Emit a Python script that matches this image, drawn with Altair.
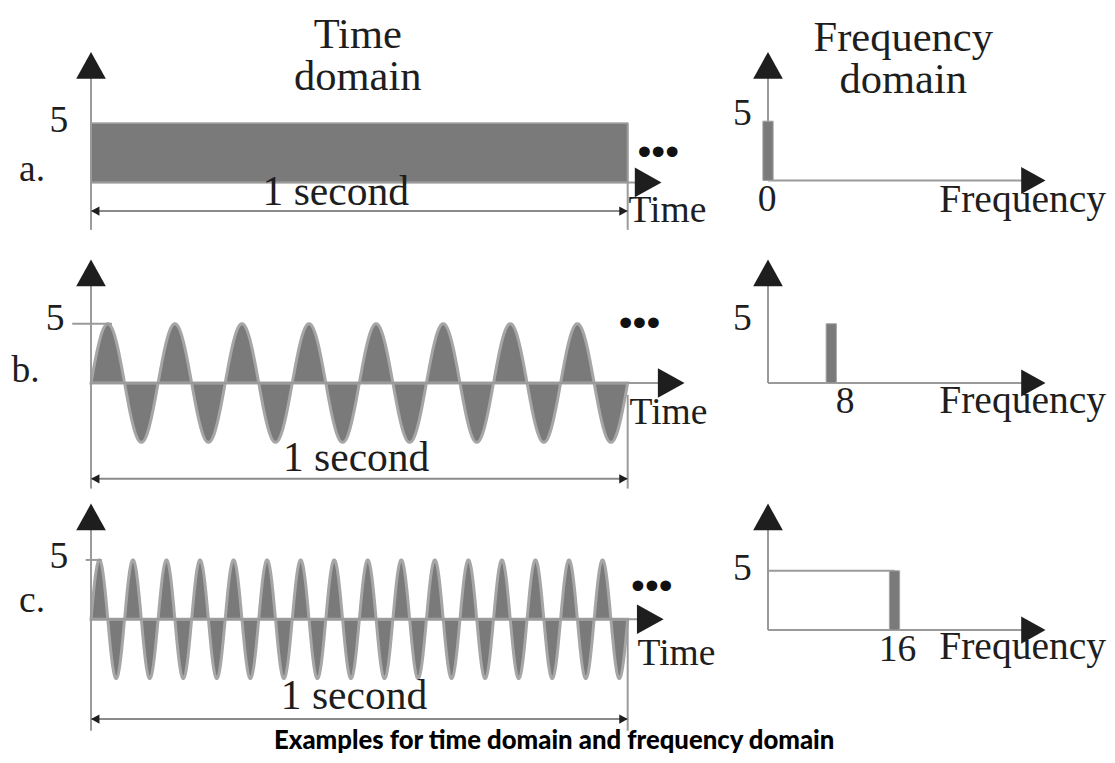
import altair as alt
import pandas as pd

# ---------------- data ----------------
ROW_LABELS = ["a.", "b.", "c."]
FREQS = [0, 8, 16]                 # Hz, one spectral line per row
AMPS = [5, 5, 5]                   # amplitude of each signal
FREQ_TICK_LABELS = ["0", "8", "16"]
AMP_TICK_LABEL = "5"
DURATION = 1.0                     # seconds shown in every time panel
DURATION_LABEL = "1 second"
TIME_TITLE = ["Time", "domain"]
FREQ_TITLE = ["Frequency", "domain"]
TIME_AXIS_LABEL = "Time"
FREQ_AXIS_LABEL = "Frequency"
CAPTION = "Examples for time domain and frequency domain"

# ---------------- layout / style ----------------
TIME_W, FREQ_W = 712, 395
ROW_H = [242, 242, 271]
TIME_X_DOMAIN = [-0.1547, 1.1565]
FREQ_X_DOMAIN = [-7.125, 42.25]
TIME_Y_DOMAINS = [[-5.833, 14.333], [-9.083, 11.083], [-11.75, 10.833]]
FREQ_Y_DOMAINS = [[-6.0, 14.167], [-9.083, 11.083], [-10.833, 11.75]]

FILL = "#7a7a7a"
EDGE = "#a6a6a6"
AXIS = "#9a9a9a"
INK = "#1e1e1e"
SERIF = "Liberation Serif"

UP = "M0,0L-0.5,0.9L0.5,0.9Z"
RIGHT = "M0,0L-0.9,-0.5L-0.9,0.5Z"
LEFT = "M0,0L0.9,-0.5L0.9,0.5Z"

# annotation placement in data units of each panel
T_Y_TIP = [11.0, 10.42, 9.75]
T_X_TIP = [1.063, 1.106, 1.067]
EXT_BOTTOM = [-4.0, -8.9, -9.4]
RIGHT_EXT_TOP = [5.0, -1.0, 0.0]
DIM_Y = [-2.42, -8.08, -8.42]
SEC_POS = [(0.456, -1.92), (0.494, -7.4), (0.49, -7.58)]
DOTS_POS = [(1.057, 2.5), (1.022, 5.0), (1.045, 2.67)]
TIME_LBL_POS = [(1.074, -3.33), (1.076, -3.42), (1.091, -3.83)]
ROW_LBL_POS = [(-0.134, 0.1), (-0.148, 0.1), (-0.134, 0.6)]
FIVE_T_POS = [(-0.06, 5.2), (-0.067, 5.4), (-0.06, 5.2)]
TICK5 = [None, (-0.035, 0.039), (-0.01, 0.02)]
CAPTION_POS = (0.863, -10.92)

F_Y_TIP = [10.83, 10.42, 10.67]
F_X_TIP = 35.1
FIVE_F_X = -3.25
FIVE_F_Y = [5.6, 5.4, 5.1]
TICKLBL_DX = [-1, 14, 3]
TICKLBL_Y = -1.65
FREQ_LBL_POS = (32.2, [-2.67, -2.5, -2.42])
TITLE_T = (0.497, 11.35)
TITLE_F = (17.1, 10.95)
BAR_HALF = 0.65


def enc(xs, ys):
    return dict(
        x=alt.X("x:Q", scale=alt.Scale(domain=xs, nice=False, zero=False), axis=None),
        y=alt.Y("y:Q", scale=alt.Scale(domain=ys, nice=False, zero=False), axis=None),
    )


def rules(df, xs, ys, color, width):
    return alt.Chart(df).mark_rule(color=color, strokeWidth=width).encode(
        **enc(xs, ys), x2="x2:Q", y2="y2:Q"
    )


def arrows(df, xs, ys, color=INK):
    return alt.Chart(df).mark_point(filled=True, opacity=1, color=color, strokeWidth=0).encode(
        **enc(xs, ys),
        shape=alt.Shape("shape:N", scale=None, legend=None),
        size=alt.Size("size:Q", scale=None, legend=None),
    )


def texts(df, xs, ys, size, font=SERIF, align="center", baseline="alphabetic",
          weight="normal", dx=0, color=INK, line_height=None):
    kw = dict(fontSize=size, font=font, align=align, baseline=baseline,
              fontWeight=weight, dx=dx, color=color)
    if line_height:
        kw.update(lineBreak="\n", lineHeight=line_height)
    return alt.Chart(df).mark_text(**kw).encode(**enc(xs, ys), text="text:N")


def time_panel(i):
    xs, ys = TIME_X_DOMAIN, TIME_Y_DOMAINS[i]
    f, a = FREQS[i], AMPS[i]
    expr = f"{a}" if f == 0 else f"{a}*sin(2*PI*{f}*datum.x)"
    wave = (
        alt.Chart(alt.sequence(0, DURATION + 0.00025, 0.0005, as_="x"))
        .transform_calculate(y=expr, y0="0")
        .mark_area(color=FILL, stroke=EDGE, strokeWidth=3 if f else 1.5, opacity=1)
        .encode(**enc(xs, ys), y2="y0:Q")
    )
    axis_lines = pd.DataFrame({
        "x": [0, 0, DURATION],
        "x2": [0, T_X_TIP[i] - 0.02, DURATION],
        "y": [EXT_BOTTOM[i], 0, RIGHT_EXT_TOP[i]],
        "y2": [T_Y_TIP[i] - 0.5, 0, EXT_BOTTOM[i]],
    })
    dim = pd.DataFrame({"x": [0], "x2": [DURATION], "y": [DIM_Y[i]], "y2": [DIM_Y[i]]})
    layers = [wave, rules(axis_lines, xs, ys, AXIS, 2), rules(dim, xs, ys, "#8a8a8a", 2)]
    if TICK5[i] is not None:
        t5 = pd.DataFrame({"x": [TICK5[i][0]], "x2": [TICK5[i][1]], "y": [a], "y2": [a]})
        layers.append(rules(t5, xs, ys, AXIS, 2))
    arr = pd.DataFrame({
        "x": [0, T_X_TIP[i], 0, DURATION],
        "y": [T_Y_TIP[i], 0, DIM_Y[i], DIM_Y[i]],
        "shape": [UP, RIGHT, LEFT, RIGHT],
        "size": [3600, 3600, 360, 360],
    })
    layers.append(arrows(arr, xs, ys))
    layers.append(texts(pd.DataFrame({"x": [FIVE_T_POS[i][0]], "y": [FIVE_T_POS[i][1]],
                                      "text": [AMP_TICK_LABEL]}), xs, ys, 38, baseline="middle"))
    layers.append(texts(pd.DataFrame({"x": [ROW_LBL_POS[i][0]], "y": [ROW_LBL_POS[i][1]],
                                      "text": [ROW_LABELS[i]]}), xs, ys, 38, align="left"))
    layers.append(texts(pd.DataFrame({"x": [SEC_POS[i][0]], "y": [SEC_POS[i][1]],
                                      "text": [DURATION_LABEL]}), xs, ys, 42))
    layers.append(texts(pd.DataFrame({"x": [TIME_LBL_POS[i][0]], "y": [TIME_LBL_POS[i][1]],
                                      "text": [TIME_AXIS_LABEL]}), xs, ys, 38))
    layers.append(texts(pd.DataFrame({"x": [DOTS_POS[i][0]], "y": [DOTS_POS[i][1]],
                                      "text": ["•••"]}), xs, ys, 40,
                        font="Liberation Sans", baseline="middle", color="#111"))
    if i == 0:
        layers.append(texts(pd.DataFrame({"x": [TITLE_T[0]], "y": [TITLE_T[1]],
                                          "text": ["\n".join(TIME_TITLE)]}), xs, ys, 43,
                            line_height=43))
    if i == 2:
        layers.append(texts(pd.DataFrame({"x": [CAPTION_POS[0]], "y": [CAPTION_POS[1]],
                                          "text": [CAPTION]}), xs, ys, 26,
                            font="Lato", weight=900, color="#000"))
    return alt.layer(*layers).properties(width=TIME_W, height=ROW_H[i])


def freq_panel(i):
    xs, ys = FREQ_X_DOMAIN, FREQ_Y_DOMAINS[i]
    f, a = FREQS[i], AMPS[i]
    lines = {"x": [0, 0], "x2": [0, F_X_TIP - 1], "y": [0, 0], "y2": [F_Y_TIP[i] - 0.5, 0]}
    if i == 2:
        lines["x"].append(0); lines["x2"].append(f)
        lines["y"].append(a); lines["y2"].append(a)
    bar = alt.Chart(pd.DataFrame({"x": [f - BAR_HALF], "x2": [f + BAR_HALF], "y": [0], "y2": [a]})) \
        .mark_rect(color=FILL, stroke=EDGE, strokeWidth=1).encode(**enc(xs, ys), x2="x2:Q", y2="y2:Q")
    arr = pd.DataFrame({"x": [0, F_X_TIP], "y": [F_Y_TIP[i], 0],
                        "shape": [UP, RIGHT], "size": [3600, 3000]})
    layers = [
        rules(pd.DataFrame(lines), xs, ys, AXIS, 2),
        bar,
        arrows(arr, xs, ys),
        texts(pd.DataFrame({"x": [FIVE_F_X], "y": [FIVE_F_Y[i]], "text": [AMP_TICK_LABEL]}),
              xs, ys, 38, baseline="middle"),
        texts(pd.DataFrame({"x": [f], "y": [TICKLBL_Y], "text": [FREQ_TICK_LABELS[i]]}),
              xs, ys, 38, baseline="middle", dx=TICKLBL_DX[i]),
        texts(pd.DataFrame({"x": [FREQ_LBL_POS[0]], "y": [FREQ_LBL_POS[1][i]],
                            "text": [FREQ_AXIS_LABEL]}), xs, ys, 40),
    ]
    if i == 0:
        layers.append(texts(pd.DataFrame({"x": [TITLE_F[0]], "y": [TITLE_F[1]],
                                          "text": ["\n".join(FREQ_TITLE)]}), xs, ys, 43,
                            line_height=43))
    return alt.layer(*layers).properties(width=FREQ_W, height=ROW_H[i])


panels = []
for i in range(3):
    panels += [time_panel(i), freq_panel(i)]

chart = (
    alt.concat(*panels, columns=2, spacing=0, bounds="flush")
    .properties(padding=0, background="white")
    .configure_view(stroke=None)
)
chart.save("out.html", embed_options={"renderer": "svg", "actions": False})
